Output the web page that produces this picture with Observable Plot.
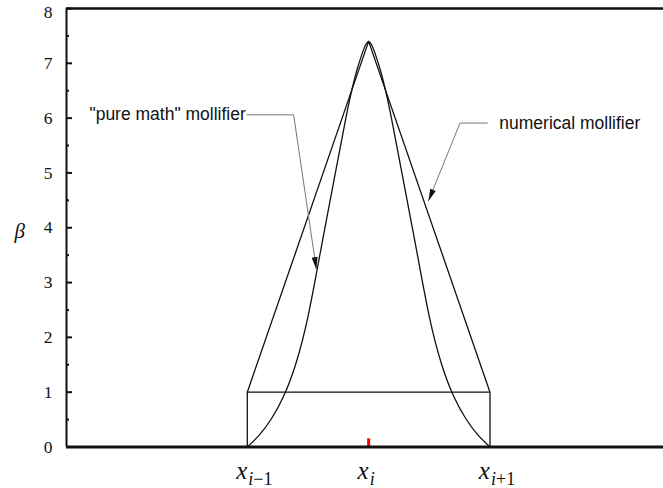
<!DOCTYPE html>
<html>
<head>
<meta charset="utf-8">
<script src="https://cdn.jsdelivr.net/npm/d3@7"></script>
<script src="https://cdn.jsdelivr.net/npm/@observablehq/plot@0.6"></script>
<style>
  html, body { margin: 0; padding: 0; background: #fff; }
</style>
</head>
<body>
<div id="chart"></div>
<script>
// x is measured in cells around node x_i (x_{i-1} = -1, x_i = 0, x_{i+1} = 1)
const xDomain = [-2.49, 2.43];
const yDomain = [0, 8];
const yMajor = [0, 1, 2, 3, 4, 5, 6, 7, 8];
const yMinor = [0.5, 1.5, 2.5, 3.5, 4.5, 5.5, 6.5, 7.5];

const nodeX = [-1, 0, 1];
const nodeSub = ["i\u22121", "i", "i+1"];

// smooth "pure math" mollifier, sampled across the support [x_{i-1}, x_{i+1}]
const bumpX = [-1, -0.9, -0.8, -0.7, -0.6, -0.5, -0.4, -0.3, -0.2, -0.15, -0.1, -0.05, 0,
               0.05, 0.1, 0.15, 0.2, 0.3, 0.4, 0.5, 0.6, 0.7, 0.8, 0.9, 1];
const bumpY = [0, 0.22, 0.52, 0.93, 1.52, 2.38, 3.53, 4.7, 5.86, 6.4, 6.85, 7.2, 7.4,
               7.2, 6.85, 6.4, 5.86, 4.7, 3.53, 2.38, 1.52, 0.93, 0.52, 0.22, 0];

// numerical mollifier: hat on top of the unit box
const hatX = [-1, -1, 0, 1, 1];
const hatY = [0, 1, 7.4, 1, 0];
const boxTop = 1;

// annotation leaders (label end, elbow, arrow tip)
const pureLeaderX = [-1.004, -0.618, -0.431];
const pureLeaderY = [6.06, 6.06, 3.245];
const numLeaderX = [0.978, 0.753, 0.493];
const numLeaderY = [5.91, 5.91, 4.49];
const pureLabel = "\"pure math\" mollifier";
const numLabel = "numerical mollifier";

const bump = bumpX.map((x, i) => ({x, y: bumpY[i]}));
const hat = hatX.map((x, i) => ({x, y: hatY[i]}));
const pureLeader = pureLeaderX.map((x, i) => ({x, y: pureLeaderY[i]}));
const numLeader = numLeaderX.map((x, i) => ({x, y: numLeaderY[i]}));

const ink = "#111";
const sans = "'Liberation Sans', Arial, sans-serif";
const serif = "'Liberation Serif', 'Times New Roman', serif";
const frameW = 663 - 66;
const yLabelStyle = {y: (d) => d, text: (d) => String(d), frameAnchor: "left", textAnchor: "end",
  dx: -14, fontFamily: serif, fontSize: 17.5, fill: ink};

const plot = Plot.plot({
  width: 663,
  height: 488,
  marginLeft: 66,
  marginRight: 0,
  marginTop: 8,
  marginBottom: 41.5,
  style: {background: "#fff", fontFamily: serif, fontSize: "17px", color: ink, overflow: "visible"},
  x: {domain: xDomain, axis: null},
  y: {domain: yDomain, axis: null},
  marks: [
    // red marker at the node x_i
    Plot.ruleX([0], {y1: 0, y2: 0.15, stroke: "#f00", strokeWidth: 3}),
    // numerical mollifier
    Plot.line(hat, {x: "x", y: "y", stroke: ink, strokeWidth: 1.3}),
    Plot.ruleY([boxTop], {x1: -1, x2: 1, stroke: ink, strokeWidth: 1.3}),
    // smooth mollifier
    Plot.line(bump, {x: "x", y: "y", curve: "natural", stroke: ink, strokeWidth: 1.3}),
    // leaders and their labels
    Plot.line(pureLeader, {x: "x", y: "y", stroke: "#777", strokeWidth: 1, ariaDescription: "leader"}),
    Plot.line(numLeader, {x: "x", y: "y", stroke: "#777", strokeWidth: 1, ariaDescription: "leader"}),
    Plot.text([pureLeader[0]], {x: "x", y: "y", text: () => pureLabel, textAnchor: "end", dx: -1,
      fontFamily: sans, fontSize: 17.5, fill: ink}),
    Plot.text([numLeader[0]], {x: "x", y: "y", text: () => numLabel, textAnchor: "start", dx: 12,
      fontFamily: sans, fontSize: 17.5, fill: ink}),
    // frame: left axis, top border, heavy baseline
    Plot.ruleX([xDomain[0]], {stroke: ink, strokeWidth: 2}),
    Plot.ruleY([yDomain[1]], {stroke: ink, strokeWidth: 2.5}),
    Plot.ruleY([0], {stroke: ink, strokeWidth: 3}),
    // inward y ticks and their labels (the top one sits just inside the frame)
    Plot.tickY(yMajor, {y: (d) => d, insetRight: frameW - 6, stroke: ink, strokeWidth: 2}),
    Plot.tickY(yMinor, {y: (d) => d, insetRight: frameW - 3, stroke: ink, strokeWidth: 2}),
    Plot.text(yMajor, {...yLabelStyle, filter: (d) => d < yDomain[1]}),
    Plot.text(yMajor, {...yLabelStyle, filter: (d) => d === yDomain[1], dy: 4}),
    // y label
    Plot.text([4], {y: (d) => d, text: () => "\u03b2", frameAnchor: "left", dx: -52, dy: 4,
      fontFamily: serif, fontStyle: "italic", fontSize: 21, fill: ink}),
    // node labels x_{i-1}, x_i, x_{i+1}
    Plot.text(nodeX, {x: (d) => d, y: 0, text: () => "x", lineAnchor: "bottom", dy: 31.5,
      textAnchor: "end", dx: 0, fontFamily: serif, fontStyle: "italic", fontSize: 25, fill: ink}),
    Plot.text(nodeX, {x: (d) => d, y: 0, text: (d, i) => nodeSub[i], lineAnchor: "bottom", dy: 37.5,
      textAnchor: "start", dx: 1, fontFamily: serif, fontSize: 18, fill: ink, ariaDescription: "node-subscript"})
  ]
});

// filled arrowheads on the leader lines
const ns = "http://www.w3.org/2000/svg";
const defs = document.createElementNS(ns, "defs");
const marker = document.createElementNS(ns, "marker");
marker.setAttribute("id", "leader-head");
marker.setAttribute("markerUnits", "userSpaceOnUse");
marker.setAttribute("viewBox", "-13 -4 14 8");
marker.setAttribute("markerWidth", "14");
marker.setAttribute("markerHeight", "8");
marker.setAttribute("refX", "0");
marker.setAttribute("refY", "0");
marker.setAttribute("orient", "auto");
const head = document.createElementNS(ns, "path");
head.setAttribute("d", "M-12,-3L0,0L-12,3Z");
head.setAttribute("fill", ink);
marker.appendChild(head);
defs.appendChild(marker);
plot.insertBefore(defs, plot.firstChild);
plot.querySelectorAll('g[aria-description="leader"] path').forEach((p) => p.setAttribute("marker-end", "url(#leader-head)"));

// subscripts: italic index, upright offset
plot.querySelectorAll('g[aria-description="node-subscript"] text').forEach((t) => {
  const s = t.textContent;
  t.textContent = "";
  const a = document.createElementNS(ns, "tspan");
  a.setAttribute("font-style", "italic");
  a.textContent = s.slice(0, 1);
  t.appendChild(a);
  if (s.length > 1) {
    const b = document.createElementNS(ns, "tspan");
    b.textContent = s.slice(1);
    t.appendChild(b);
  }
});

document.getElementById("chart").appendChild(plot);
</script>
</body>
</html>
